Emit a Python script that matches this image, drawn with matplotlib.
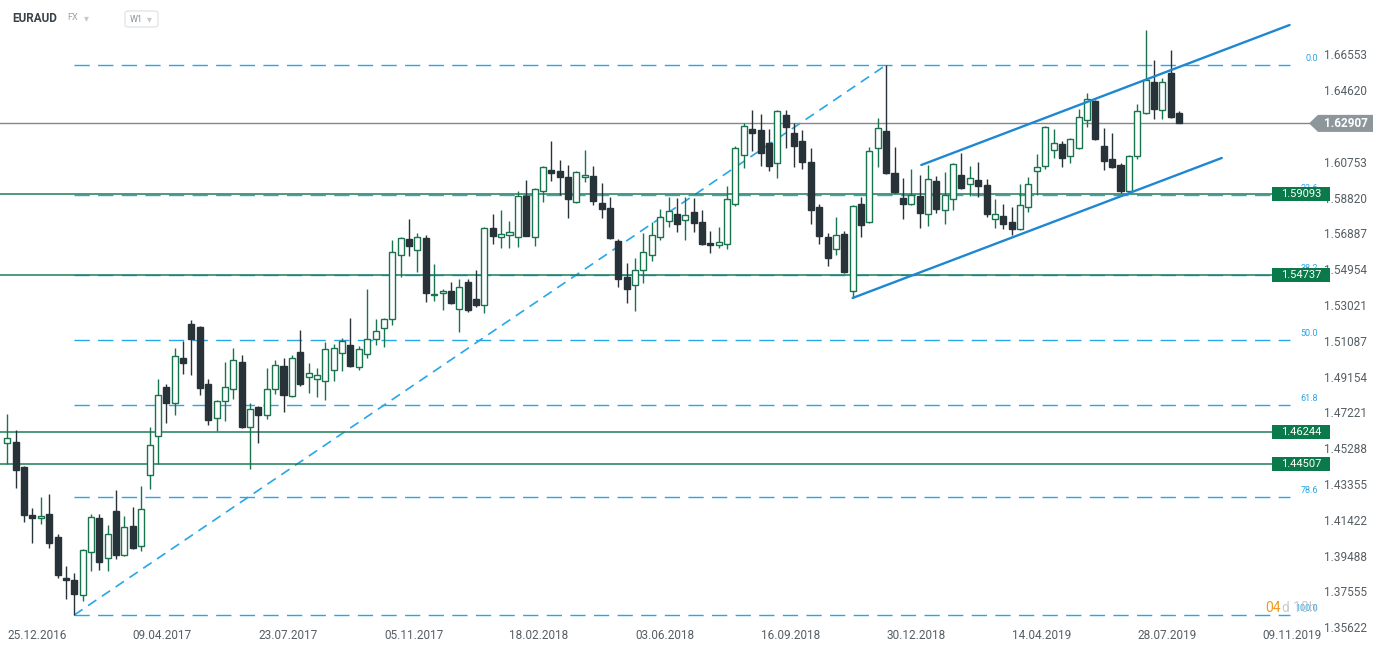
import numpy as np
import matplotlib
matplotlib.use('Agg')
import matplotlib.pyplot as plt
from matplotlib import transforms
from matplotlib.patches import Polygon, Rectangle, FancyBboxPatch

plt.rcParams['font.family'] = ['Roboto', 'DejaVu Sans']

# weekly EURAUD candles, first week starting 25.12.2016
opens = [1.4565, 1.4570, 1.4435, 1.4176, 1.4160, 1.4181, 1.4057, 1.3836, 1.3825, 1.3744,
         1.3976, 1.4160, 1.3944, 1.4198, 1.3960, 1.4117, 1.4009, 1.4392, 1.4603, 1.4867,
         1.4781, 1.5024, 1.5207, 1.5191, 1.4883, 1.4700, 1.4792, 1.4856, 1.5002, 1.4651,
         1.4759, 1.4716, 1.4856, 1.4981, 1.4819, 1.5056, 1.4921, 1.4910, 1.4900, 1.4959,
         1.5051, 1.5094, 1.4975, 1.5045, 1.5126, 1.5186, 1.5234, 1.5580, 1.5666, 1.5607,
         1.5672, 1.5364, 1.5375, 1.5386, 1.5288, 1.5434, 1.5342, 1.5310, 1.5726, 1.5677,
         1.5688, 1.5677, 1.5899, 1.5677, 1.5926, 1.6039, 1.6034, 1.6001, 1.5866, 1.6001,
         1.6007, 1.5861, 1.5834, 1.5656, 1.5461, 1.5418, 1.5499, 1.5580, 1.5677, 1.5764,
         1.5801, 1.5769, 1.5812, 1.5758, 1.5645, 1.5634, 1.5639, 1.5855, 1.6120, 1.6260,
         1.6255, 1.6185, 1.6077, 1.6336, 1.6239, 1.6196, 1.6082, 1.5839, 1.5677, 1.5612,
         1.5693, 1.5386, 1.5855, 1.5758, 1.6158, 1.6250, 1.6023, 1.5888, 1.5855, 1.5899,
         1.5801, 1.5980, 1.5823, 1.5882, 1.6012, 1.5963, 1.5985, 1.5958, 1.5774, 1.5791,
         1.5758, 1.5720, 1.5839, 1.6034, 1.6061, 1.6147, 1.6179, 1.6115, 1.6158, 1.6309,
         1.6412, 1.6169, 1.6098, 1.6066, 1.5926, 1.6115, 1.6347, 1.6514, 1.6363, 1.6563,
         1.6347]
highs = [1.4721, 1.4635, 1.4440, 1.4214, 1.4273, 1.4289, 1.4073, 1.3901, 1.3863, 1.3992,
         1.4181, 1.4181, 1.4122, 1.4311, 1.4171, 1.4219, 1.4333, 1.4651, 1.4910, 1.4883,
         1.5078, 1.5116, 1.5229, 1.5196, 1.4910, 1.4795, 1.5002, 1.5078, 1.5040, 1.4781,
         1.4762, 1.4970, 1.5013, 1.5024, 1.5040, 1.5175, 1.4997, 1.4970, 1.5110, 1.5099,
         1.5132, 1.5240, 1.5088, 1.5396, 1.5234, 1.5240, 1.5661, 1.5677, 1.5774, 1.5699,
         1.5688, 1.5531, 1.5396, 1.5434, 1.5450, 1.5450, 1.5499, 1.5731, 1.5801, 1.5823,
         1.5764, 1.5926, 1.5985, 1.5942, 1.6061, 1.6196, 1.6093, 1.6066, 1.6034, 1.6147,
         1.6061, 1.5969, 1.5893, 1.5666, 1.5537, 1.5564, 1.5699, 1.5758, 1.5828, 1.5893,
         1.5888, 1.5893, 1.5888, 1.5823, 1.5710, 1.5731, 1.5953, 1.6169, 1.6293, 1.6363,
         1.6341, 1.6260, 1.6363, 1.6363, 1.6293, 1.6255, 1.6158, 1.5855, 1.5699, 1.5785,
         1.5710, 1.5850, 1.5893, 1.6163, 1.6320, 1.6606, 1.6163, 1.5996, 1.6044, 1.6012,
         1.6066, 1.6007, 1.6028, 1.6077, 1.6131, 1.6061, 1.6082, 1.5990, 1.5882, 1.5855,
         1.5839, 1.5963, 1.6001, 1.6125, 1.6276, 1.6260, 1.6196, 1.6210, 1.6368, 1.6455,
         1.6417, 1.6266, 1.6239, 1.6077, 1.6120, 1.6395, 1.6795, 1.6633, 1.6536, 1.6687,
         1.6358]
lows = [1.4451, 1.4322, 1.4138, 1.4025, 1.4127, 1.3998, 1.3836, 1.3722, 1.3636, 1.3712,
        1.3874, 1.3879, 1.3874, 1.3938, 1.3955, 1.3995, 1.3982, 1.4316, 1.4451, 1.4673,
        1.4716, 1.4937, 1.4932, 1.4824, 1.4662, 1.4630, 1.4684, 1.4802, 1.4645, 1.4424,
        1.4565, 1.4695, 1.4829, 1.4732, 1.4813, 1.4873, 1.4835, 1.4813, 1.4797, 1.4900,
        1.4954, 1.4976, 1.4959, 1.5024, 1.5094, 1.5083, 1.5202, 1.5461, 1.5575, 1.5488,
        1.5326, 1.5332, 1.5283, 1.5315, 1.5164, 1.5272, 1.5300, 1.5267, 1.5639, 1.5618,
        1.5618, 1.5623, 1.5680, 1.5629, 1.5866, 1.5980, 1.5904, 1.5780, 1.5861, 1.5974,
        1.5850, 1.5780, 1.5666, 1.5407, 1.5321, 1.5278, 1.5429, 1.5548, 1.5661, 1.5731,
        1.5704, 1.5661, 1.5704, 1.5634, 1.5591, 1.5618, 1.5612, 1.5844, 1.6050, 1.6142,
        1.6061, 1.6034, 1.5996, 1.6158, 1.6055, 1.6044, 1.5747, 1.5639, 1.5521, 1.5580,
        1.5483, 1.5348, 1.5677, 1.5753, 1.6055, 1.6017, 1.5915, 1.5774, 1.5850, 1.5726,
        1.5737, 1.5807, 1.5747, 1.5823, 1.5937, 1.5899, 1.5893, 1.5785, 1.5726, 1.5720,
        1.5688, 1.5715, 1.5812, 1.5904, 1.6044, 1.6104, 1.6055, 1.6077, 1.6153, 1.6271,
        1.6201, 1.6039, 1.6050, 1.5915, 1.5915, 1.6098, 1.6340, 1.6314, 1.6314, 1.6320,
        1.62907]
closes = [1.4592, 1.4419, 1.4176, 1.4160, 1.4171, 1.4025, 1.3852, 1.3825, 1.3749, 1.3987,
          1.4165, 1.3922, 1.4073, 1.3960, 1.4111, 1.3998, 1.4208, 1.4554, 1.4824, 1.4781,
          1.5035, 1.4997, 1.5126, 1.4862, 1.4689, 1.4792, 1.4867, 1.5013, 1.4651, 1.4748,
          1.4716, 1.4856, 1.4986, 1.4824, 1.5024, 1.4883, 1.4943, 1.4932, 1.5072, 1.5078,
          1.5116, 1.4981, 1.5072, 1.5126, 1.5170, 1.5234, 1.5596, 1.5672, 1.5629, 1.5677,
          1.5375, 1.5369, 1.5386, 1.5321, 1.5407, 1.5283, 1.5310, 1.5726, 1.5683, 1.5693,
          1.5704, 1.5899, 1.5683, 1.5936, 1.6055, 1.6023, 1.6001, 1.5882, 1.6028, 1.6012,
          1.5872, 1.5828, 1.5672, 1.5450, 1.5396, 1.5499, 1.5596, 1.5688, 1.5785, 1.5818,
          1.5747, 1.5796, 1.5753, 1.5639, 1.5634, 1.5650, 1.5882, 1.6158, 1.6277, 1.6239,
          1.6131, 1.6061, 1.6358, 1.6271, 1.6169, 1.6082, 1.5823, 1.5683, 1.5564, 1.5688,
          1.5488, 1.5845, 1.5742, 1.6142, 1.6266, 1.6023, 1.5920, 1.5855, 1.5904, 1.5807,
          1.5990, 1.5828, 1.5904, 1.6071, 1.5942, 1.5996, 1.5953, 1.5801, 1.5801, 1.5747,
          1.5720, 1.5850, 1.5963, 1.6055, 1.6271, 1.6185, 1.6104, 1.6206, 1.6325, 1.6422,
          1.6206, 1.6088, 1.6055, 1.5926, 1.6115, 1.6358, 1.6525, 1.6368, 1.6514, 1.6325,
          1.62907]

price_ticks = [1.66553, 1.64620, 1.62687, 1.60753, 1.58820, 1.56887, 1.54954, 1.53021,
               1.51087, 1.49154, 1.47221, 1.45288, 1.43355, 1.41422, 1.39488, 1.37555, 1.35622]
date_labels = ['25.12.2016', '09.04.2017', '23.07.2017', '05.11.2017', '18.02.2018',
               '03.06.2018', '16.09.2018', '30.12.2018', '14.04.2019', '28.07.2019',
               '09.11.2019']
date_step = 15  # weeks between date labels
level_lines = [1.59093, 1.54737, 1.46244, 1.44507]
fib_ratios = [0.0, 23.6, 38.2, 50.0, 61.8, 78.6, 100.0]
fib_low_week, fib_high_week = 8, 105
# trend channel: (week, price) end points
channel_upper = ([109.2, 153.2], [1.6066, 1.6822])
channel_lower = ([101, 145.1], [1.5348, 1.6104])

W, H = 1387, 654
GREEN = '#17744d'
DARK = '#283239'
BOX_GREEN = '#0a7a4b'
BLUE = '#1e87d2'
FIB = '#27a6e8'


def fx(px):
    return px / W


fig = plt.figure(figsize=(W / 100, H / 100), dpi=100)
ax = fig.add_axes([0, 29 / H, 1, 625 / H])
ax.set_xlim(-0.872, 164.84)
ax.set_ylim(1.3582, 1.6957)
for s in ax.spines.values():
    s.set_visible(False)
ax.set_yticks([])
trans = transforms.blended_transform_factory(ax.transAxes, ax.transData)

o = np.array(opens)
h = np.array(highs)
l = np.array(lows)
c = np.array(closes)
x = np.arange(len(o))
up = c >= o
cols = np.where(up, GREEN, DARK)

# candles
ax.vlines(x, l, h, colors=cols, lw=1.0, zorder=3)
ax.bar(x, np.maximum(np.abs(c - o), 0.0003), bottom=np.minimum(o, c), width=0.72,
       color=np.where(up, 'white', DARK), edgecolor=cols, linewidth=1.0, zorder=4)

x_right = (1290 - 7.3) / 8.37

# fibonacci retracement
fib_lo = lows[fib_low_week]
fib_hi = highs[fib_high_week]
ax.plot([fib_low_week, fib_high_week], [fib_lo, fib_hi], color=FIB, lw=1.2,
        linestyle=(0, (6, 4)), zorder=2)
for r in fib_ratios:
    p = fib_hi - r / 100 * (fib_hi - fib_lo)
    ax.hlines(p, fib_low_week, x_right, colors=FIB, lw=1.0,
              linestyles=[(0, (11, 6))], zorder=2)
    ax.text(fx(1318), p + 0.0012, f'{r:.1f}', transform=trans, ha='right', va='bottom',
            fontsize=6.5, color=FIB, zorder=3)

# channel
ax.plot(*channel_upper, color=BLUE, lw=1.7, zorder=5, solid_capstyle='round')
ax.plot(*channel_lower, color=BLUE, lw=1.7, zorder=5, solid_capstyle='round')

# support / resistance levels
for lv in level_lines:
    ax.axhline(lv, xmin=0, xmax=fx(1272), color='#1c7d59', lw=1.1, zorder=2)
    ax.add_patch(Rectangle((fx(1272), lv - 0.0038), 58 / W, 0.0076, transform=trans,
                           facecolor=BOX_GREEN, edgecolor='none', zorder=6, clip_on=False))
    ax.text(fx(1301), lv, f'{lv:.5f}', transform=trans, ha='center', va='center',
            fontsize=8, color='white', zorder=7)

# last price
last = closes[-1]
ax.axhline(last, xmin=0, xmax=fx(1310), color='#7f888d', lw=1.0, zorder=2)
ax.add_patch(Polygon([(fx(1309), last), (fx(1318), last + 0.0046), (fx(1373), last + 0.0046),
                      (fx(1373), last - 0.0046), (fx(1318), last - 0.0046)],
                     closed=True, transform=trans, facecolor='#8d969b', edgecolor='none',
                     zorder=6, clip_on=False))
ax.text(fx(1346), last, f'{last:.5f}', transform=trans, ha='center', va='center',
        fontsize=8.5, color='white', fontweight='bold', zorder=7)

# price scale
for t in price_ticks:
    if abs(t - last) < 0.005:
        continue
    ax.text(fx(1324), t, f'{t:.5f}', transform=trans, ha='left', va='center',
            fontsize=8.5, color='#555e64', clip_on=False)

# date axis
tick_pos = np.arange(len(date_labels)) * date_step
ax.set_xticks(tick_pos, date_labels)
ax.tick_params(axis='x', length=0, pad=3, labelsize=8.5, labelcolor='#555e64')
for lbl in ax.get_xticklabels():
    lbl.set_ha('left')

# countdown to candle close
ax.text(fx(1265), 1.3674, '04', transform=trans, ha='left', va='center',
        fontsize=10, color='#f39a1e', zorder=8)
ax.text(fx(1282), 1.3674, 'd 10h', transform=trans, ha='left', va='center',
        fontsize=10, color='#c2c2c2', alpha=0.85, zorder=8)

# header
fig.text(fx(12), 1 - 18 / H, 'EURAUD', fontsize=8.5, fontweight='bold', color='#37424a',
         va='center')
fig.text(fx(67), 1 - 18 / H, 'FX', fontsize=6.5, color='#9aa3a8', va='center')
fig.text(fx(84), 1 - 18 / H, '\u25BE', fontsize=7, color='#c4c9cc', va='center')
fig.patches.append(FancyBboxPatch((fx(125), 1 - 27 / H), 33 / W, 16 / H,
                                  boxstyle='round,pad=0,rounding_size=0.003',
                                  transform=fig.transFigure, facecolor='white',
                                  edgecolor='#dcdfe1', lw=0.8))
fig.text(fx(130), 1 - 19 / H, 'W1', fontsize=6.5, color='#8a9399', va='center')
fig.text(fx(147), 1 - 19 / H, '\u25BE', fontsize=7, color='#c4c9cc', va='center')

fig.savefig('out.png', dpi=100)
